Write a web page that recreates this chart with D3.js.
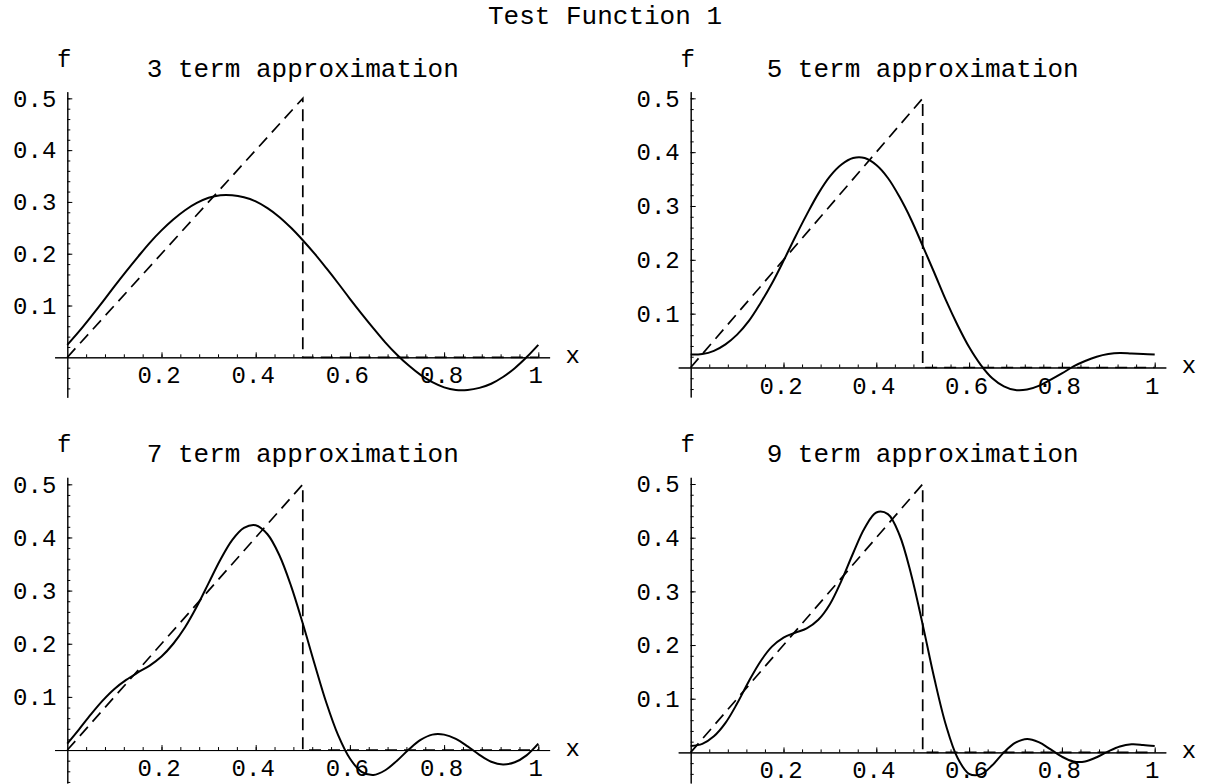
<!DOCTYPE html>
<html lang="en">
<head>
<meta charset="UTF-8">
<title>Test Function 1</title>
<script src="https://cdn.jsdelivr.net/npm/d3@7"></script>
<style>
  body { margin: 0; background: #fff; }
  svg text { font-family: "Courier New", Courier, "Liberation Mono", monospace; fill: #000; }
  .tick text { font-size: 24px; }
  .axis path, .axis line { stroke: #000; stroke-width: 1; }
</style>
</head>
<body>
<svg id="chart" width="1217" height="784"></svg>
<script>
// x positions where the approximations were read off
const xGrid = [0, 0.025, 0.05, 0.075, 0.1, 0.125, 0.15, 0.175, 0.2, 0.225, 0.25, 0.275, 0.3, 0.325, 0.35, 0.375, 0.4,
  0.425, 0.45, 0.475, 0.5, 0.525, 0.55, 0.575, 0.6, 0.625, 0.65, 0.675, 0.7, 0.725, 0.75, 0.775, 0.8, 0.825, 0.85,
  0.875, 0.9, 0.925, 0.95, 0.975, 1];

const f3 = [0.024, 0.050, 0.078, 0.107, 0.137, 0.166, 0.194, 0.221, 0.245, 0.266, 0.284, 0.298, 0.308, 0.313, 0.313,
  0.309, 0.301, 0.288, 0.271, 0.250, 0.226, 0.200, 0.172, 0.143, 0.113, 0.084, 0.056, 0.029, 0.005, -0.016, -0.034,
  -0.048, -0.058, -0.063, -0.063, -0.059, -0.051, -0.038, -0.021, 0.000, 0.024];

const f5 = [0.024, 0.025, 0.031, 0.043, 0.061, 0.086, 0.119, 0.156, 0.198, 0.242, 0.284, 0.323, 0.355, 0.377, 0.389,
  0.389, 0.376, 0.352, 0.317, 0.275, 0.226, 0.176, 0.125, 0.079, 0.038, 0.005, -0.020, -0.035, -0.042, -0.041, -0.034,
  -0.023, -0.011, 0.002, 0.012, 0.020, 0.025, 0.027, 0.026, 0.025, 0.024];

const f7 = [0.012, 0.039, 0.067, 0.093, 0.115, 0.132, 0.146, 0.159, 0.176, 0.200, 0.231, 0.270, 0.314, 0.358, 0.395,
  0.418, 0.423, 0.406, 0.367, 0.309, 0.238, 0.162, 0.089, 0.028, -0.016, -0.041, -0.047, -0.038, -0.020, 0.001, 0.019,
  0.029, 0.029, 0.021, 0.007, -0.009, -0.022, -0.027, -0.023, -0.010, 0.012];

const f9 = [0.012, 0.016, 0.030, 0.055, 0.091, 0.132, 0.169, 0.197, 0.214, 0.223, 0.231, 0.247, 0.276, 0.320, 0.371,
  0.418, 0.447, 0.444, 0.405, 0.332, 0.238, 0.138, 0.051, -0.010, -0.040, -0.041, -0.024, 0.000, 0.018, 0.025, 0.019,
  0.006, -0.008, -0.017, -0.017, -0.009, 0.002, 0.011, 0.015, 0.014, 0.012];

// the test function itself (dashed)
const target = [[0, 0], [0.5, 0.5], [0.5, 0], [1, 0]];

const xTicks = [0.2, 0.4, 0.6, 0.8, 1];
const xTickLabels = ["0.2", "0.4", "0.6", "0.8", "1"];
const yTicks = [0.1, 0.2, 0.3, 0.4, 0.5];
const yTickLabels = ["0.1", "0.2", "0.3", "0.4", "0.5"];
const termCounts = [3, 5, 7, 9];

const svg = d3.select("#chart");

svg.append("text")
  .attr("x", 605)
  .attr("y", 24)
  .attr("text-anchor", "middle")
  .style("font-size", "26px")
  .text("Test Function 1");

// layout of the four panels
const panels = [
  { n: termCounts[0], vals: f3, x0: 67.3, unit: 471, yDom: [-0.0772, 0.5128], yRange: [397.3, 91.7] },
  { n: termCounts[1], vals: f5, x0: 690.7, unit: 464, yDom: [-0.0548, 0.5123], yRange: [397, 91.7] },
  { n: termCounts[2], vals: f7, x0: 67.3, unit: 471, yDom: [-0.062, 0.5132], yRange: [783, 477.3] },
  { n: termCounts[3], vals: f9, x0: 690.7, unit: 464, yDom: [-0.057, 0.5125], yRange: [783, 477.3] }
];

panels.forEach(p => {
  const xDom = [-0.027, 1.024];
  const x = d3.scaleLinear()
    .domain(xDom)
    .range([p.x0 + xDom[0] * p.unit, p.x0 + xDom[1] * p.unit]);
  const y = d3.scaleLinear().domain(p.yDom).range(p.yRange);

  const g = svg.append("g");

  // x axis, minor then major ticks (pointing up)
  g.append("g")
    .attr("class", "axis")
    .attr("transform", "translate(0," + y(0) + ")")
    .call(d3.axisBottom(x)
      .tickValues(d3.range(0.04, 1.001, 0.04))
      .tickSizeInner(-3)
      .tickSizeOuter(0)
      .tickFormat(""));

  g.append("g")
    .attr("class", "axis")
    .attr("transform", "translate(0," + y(0) + ")")
    .call(d3.axisBottom(x)
      .tickValues(xTicks)
      .tickSizeInner(-5)
      .tickSizeOuter(0)
      .tickPadding(9)
      .tickFormat((d, i) => xTickLabels[i]))
    .call(a => a.selectAll(".tick text").attr("dx", -3));

  // y axis
  g.append("g")
    .attr("class", "axis")
    .attr("transform", "translate(" + x(0) + ",0)")
    .call(d3.axisLeft(y)
      .tickValues(d3.range(-0.06, 0.501, 0.02).filter(v => v > p.yDom[0] && Math.abs(v) > 1e-9))
      .tickSizeInner(-3)
      .tickSizeOuter(0)
      .tickFormat(""));

  g.append("g")
    .attr("class", "axis")
    .attr("transform", "translate(" + x(0) + ",0)")
    .call(d3.axisLeft(y)
      .tickValues(yTicks)
      .tickSizeInner(-5)
      .tickSizeOuter(0)
      .tickPadding(11)
      .tickFormat((d, i) => yTickLabels[i]));

  // axis names and panel title
  g.append("text")
    .attr("x", x(0) - 3)
    .attr("y", p.yRange[1] - 25)
    .attr("text-anchor", "middle")
    .style("font-size", "24px")
    .text("f");

  g.append("text")
    .attr("x", x(xDom[1]) + 16)
    .attr("y", y(0) + 6)
    .style("font-size", "24px")
    .text("x");

  g.append("text")
    .attr("x", (x(0) + x(1)) / 2)
    .attr("y", p.yRange[1] - 15)
    .attr("text-anchor", "middle")
    .style("font-size", "26px")
    .text(p.n + " term approximation");

  // dashed test function
  g.append("path")
    .datum(target)
    .attr("fill", "none")
    .attr("stroke", "#000")
    .attr("stroke-width", 1.7)
    .attr("stroke-dasharray", "12,7")
    .attr("d", d3.line().x(d => x(d[0])).y(d => y(d[1])));

  // solid approximation
  g.append("path")
    .datum(xGrid.map((v, i) => [v, p.vals[i]]))
    .attr("fill", "none")
    .attr("stroke", "#000")
    .attr("stroke-width", 2)
    .attr("d", d3.line().curve(d3.curveCatmullRom.alpha(0.5)).x(d => x(d[0])).y(d => y(d[1])));
});
</script>
</body>
</html>
